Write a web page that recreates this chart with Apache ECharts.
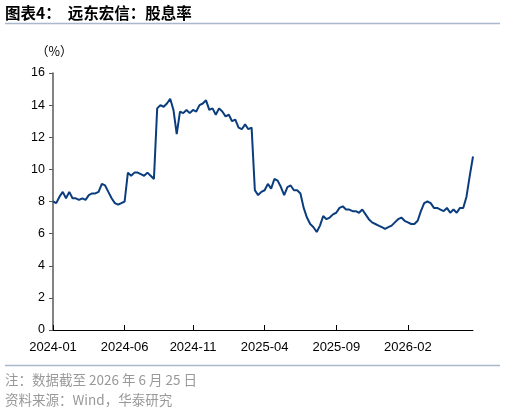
<!DOCTYPE html>
<html>
<head>
<meta charset="utf-8">
<script src="https://cdn.jsdelivr.net/npm/echarts@6/dist/echarts.min.js"></script>
<style>
  html, body { margin: 0; padding: 0; background: #fff; }
  #main { width: 505px; height: 412px; }
</style>
</head>
<body>
<div id="main"></div>
<script>
var myChart = echarts.init(document.getElementById("main"));

// weekly closes (Fridays)
var startDate = "2024-01-05";
var yieldValues = [
  8.0, 7.9, 8.3, 8.6, 8.2, 8.6, 8.2, 8.2, 8.1, 8.2,
  8.1, 8.4, 8.5, 8.5, 8.6, 9.1, 9.0, 8.6, 8.2, 7.9,
  7.8, 7.9, 8.0, 9.8, 9.6, 9.8, 9.8, 9.7, 9.6, 9.8,
  9.6, 9.4, 13.8, 14.0, 13.9, 14.1, 14.4, 13.7, 12.2, 13.6,
  13.5, 13.7, 13.5, 13.7, 13.6, 14.0, 14.1, 14.3, 13.7, 13.8,
  13.4, 13.8, 13.6, 13.3, 13.4, 13.0, 13.1, 12.6, 12.5, 12.8,
  12.5, 12.6, 8.7, 8.4, 8.6, 8.7, 9.1, 8.8, 9.4, 9.3,
  8.9, 8.4, 8.9, 9.0, 8.7, 8.7, 8.5, 7.6, 7.0, 6.6,
  6.4, 6.1, 6.5, 7.1, 6.9, 7.0, 7.2, 7.3, 7.6, 7.7,
  7.5, 7.5, 7.4, 7.4, 7.3, 7.5, 7.2, 6.9, 6.7, 6.6,
  6.5, 6.4, 6.3, 6.4, 6.5, 6.7, 6.9, 7.0, 6.8, 6.7,
  6.6, 6.6, 6.8, 7.4, 7.9, 8.0, 7.9, 7.6, 7.6, 7.5,
  7.4, 7.6, 7.3, 7.5, 7.3, 7.6, 7.6, 8.3, 9.6, 10.8
];
var labelMonths = ["2024-01", "2024-06", "2024-11", "2025-04", "2025-09", "2026-02"];

// build the weekly date categories
var dates = [];
var d0 = new Date(startDate + "T00:00:00Z");
for (var i = 0; i < yieldValues.length; i++) {
  var d = new Date(d0.getTime() + i * 7 * 86400000);
  dates.push(d.toISOString().slice(0, 10));
}

// index of first week in each labelled month
var labelIndex = {};
labelMonths.forEach(function (m) {
  for (var k = 0; k < dates.length; k++) {
    if (dates[k].slice(0, 7) === m) { labelIndex[k] = m; break; }
  }
});
function showLabel(idx) { return labelIndex.hasOwnProperty(idx); }

var font = "'Liberation Sans', Arial, 'Noto Sans CJK SC', sans-serif";
var cjk = "'Noto Sans CJK SC', sans-serif";

option = {
  animation: false,
  backgroundColor: "#fff",
  grid: { left: 53, right: 32, top: 73, bottom: 82 },
  xAxis: {
    type: "category",
    data: dates,
    boundaryGap: false,
    axisLine: { lineStyle: { color: "#000", width: 1 } },
    axisTick: { inside: true, length: 5, interval: showLabel, lineStyle: { color: "#000" } },
    axisLabel: {
      interval: showLabel,
      formatter: function (v) { return v.slice(0, 7); },
      color: "#000", fontSize: 13, fontFamily: font, margin: 11
    },
    splitLine: { show: false }
  },
  yAxis: {
    type: "value",
    min: 0, max: 16, interval: 2,
    axisLine: { show: true, lineStyle: { color: "#595959", width: 1.5 } },
    axisTick: { show: true, length: 4, lineStyle: { color: "#595959" } },
    axisLabel: { color: "#000", fontSize: 12.5, fontFamily: font, margin: 8 },
    splitLine: { show: false }
  },
  graphic: [
    { type: "text", left: 5, top: 5, style: { text: "图表4：  远东宏信：股息率", fontSize: 15.5, fontWeight: "bold", fill: "#000", fontFamily: cjk } },
    { type: "line", shape: { x1: 5, y1: 23.5, x2: 500, y2: 23.5 }, style: { stroke: "#a9b8cc", lineWidth: 1.5 } },
    { type: "text", left: 36, top: 45, style: { text: "（%）", fontSize: 12.5, fill: "#000", fontFamily: cjk } },
    { type: "line", shape: { x1: 5, y1: 365.5, x2: 500, y2: 365.5 }, style: { stroke: "#a9b8cc", lineWidth: 1.5 } },
    { type: "text", left: 5, top: 373, style: { text: "注：数据截至 2026 年 6 月 25 日", fontSize: 13.5, fill: "#999", fontFamily: cjk } },
    { type: "text", left: 5, top: 393, style: { text: "资料来源：Wind，华泰研究", fontSize: 13.5, fill: "#999", fontFamily: cjk } }
  ],
  series: [
    {
      type: "line",
      data: yieldValues,
      showSymbol: false,
      lineStyle: { color: "#0b3d7e", width: 2 },
      itemStyle: { color: "#0b3d7e" }
    }
  ]
};

myChart.setOption(option);
window.addEventListener("resize", function () {
  myChart.resize();
});
</script>
</body>
</html>
